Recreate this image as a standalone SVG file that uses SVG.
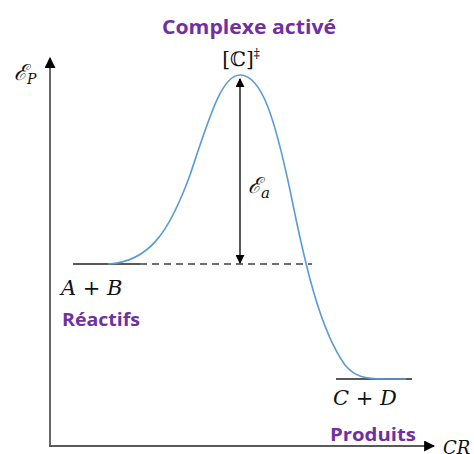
<svg xmlns="http://www.w3.org/2000/svg" width="474" height="454" viewBox="0 0 474 454">
<defs>
<marker id="ah" viewBox="0 0 10 10" refX="9" refY="5" markerWidth="9" markerHeight="9" markerUnits="userSpaceOnUse" orient="auto-start-reverse"><path d="M0,0 L10,5 L0,10 z" fill="#000"/></marker>
<marker id="ax" viewBox="0 0 10 10" refX="9" refY="5" markerWidth="11" markerHeight="11" markerUnits="userSpaceOnUse" orient="auto"><path d="M0,0 L10,5 L0,10 z" fill="#000"/></marker>
</defs>
<style>
.lab{font-family:"Open Sans","Liberation Sans",sans-serif;font-weight:bold;fill:#7030A0}
.math{font-family:"DejaVu Serif","Liberation Serif",serif;font-style:italic;fill:#111}
.lvl{stroke:#595959;stroke-width:2;fill:none}
</style>
<rect width="474" height="454" fill="#fff"/>
<g id="axes">
<line x1="50" y1="446" x2="50" y2="58" stroke="#595959" stroke-width="1.8" marker-end="url(#ax)"/>
<line x1="49" y1="446" x2="434" y2="446" stroke="#595959" stroke-width="1.8" marker-end="url(#ax)"/>
<text class="math" x="14" y="80" font-size="22">ℰ<tspan font-size="14" dy="4">P</tspan></text>
<text class="math" x="443" y="454" font-size="18">CR</text>
</g>
<g id="connectors">
<line class="lvl" x1="73" y1="264" x2="140" y2="264"/>
<line x1="140" y1="264" x2="312" y2="264" stroke="#404040" stroke-width="1.4" stroke-dasharray="7,5"/>
<line class="lvl" x1="336" y1="379" x2="412" y2="379"/>
<path d="M108,264 C150,262 170,230 190,175 C210,115 222,75 240,75 C262,75 275,120 290,190 C305,265 320,330 345,365 C355,377 365,379 385,379 L406,379" fill="none" stroke="#5B9BD5" stroke-width="1.6"/>
<line x1="240" y1="79" x2="240" y2="263" stroke="#111" stroke-width="1.4" marker-start="url(#ah)" marker-end="url(#ah)"/>
</g>
<g id="ts">
<text class="lab" x="249" y="34" font-size="20" text-anchor="middle" textLength="174" lengthAdjust="spacingAndGlyphs">Complexe activé</text>
<text x="241" y="66" font-size="20" text-anchor="middle" font-family="DejaVu Serif,serif" fill="#111">[ℂ]<tspan font-size="12" dy="-8">‡</tspan></text>
</g>
<g id="ea">
<text class="math" x="248" y="193" font-size="22">ℰ<tspan font-size="15" dy="5">a</tspan></text>
</g>
<g id="reactifs">
<text class="math" x="61" y="295" font-size="21">A + B</text>
<text class="lab" x="62" y="326" font-size="18" textLength="78" lengthAdjust="spacingAndGlyphs">Réactifs</text>
</g>
<g id="produits">
<text class="math" x="333" y="405" font-size="21">C + D</text>
<text class="lab" x="330" y="441" font-size="18" textLength="86" lengthAdjust="spacingAndGlyphs">Produits</text>
</g>
</svg>
